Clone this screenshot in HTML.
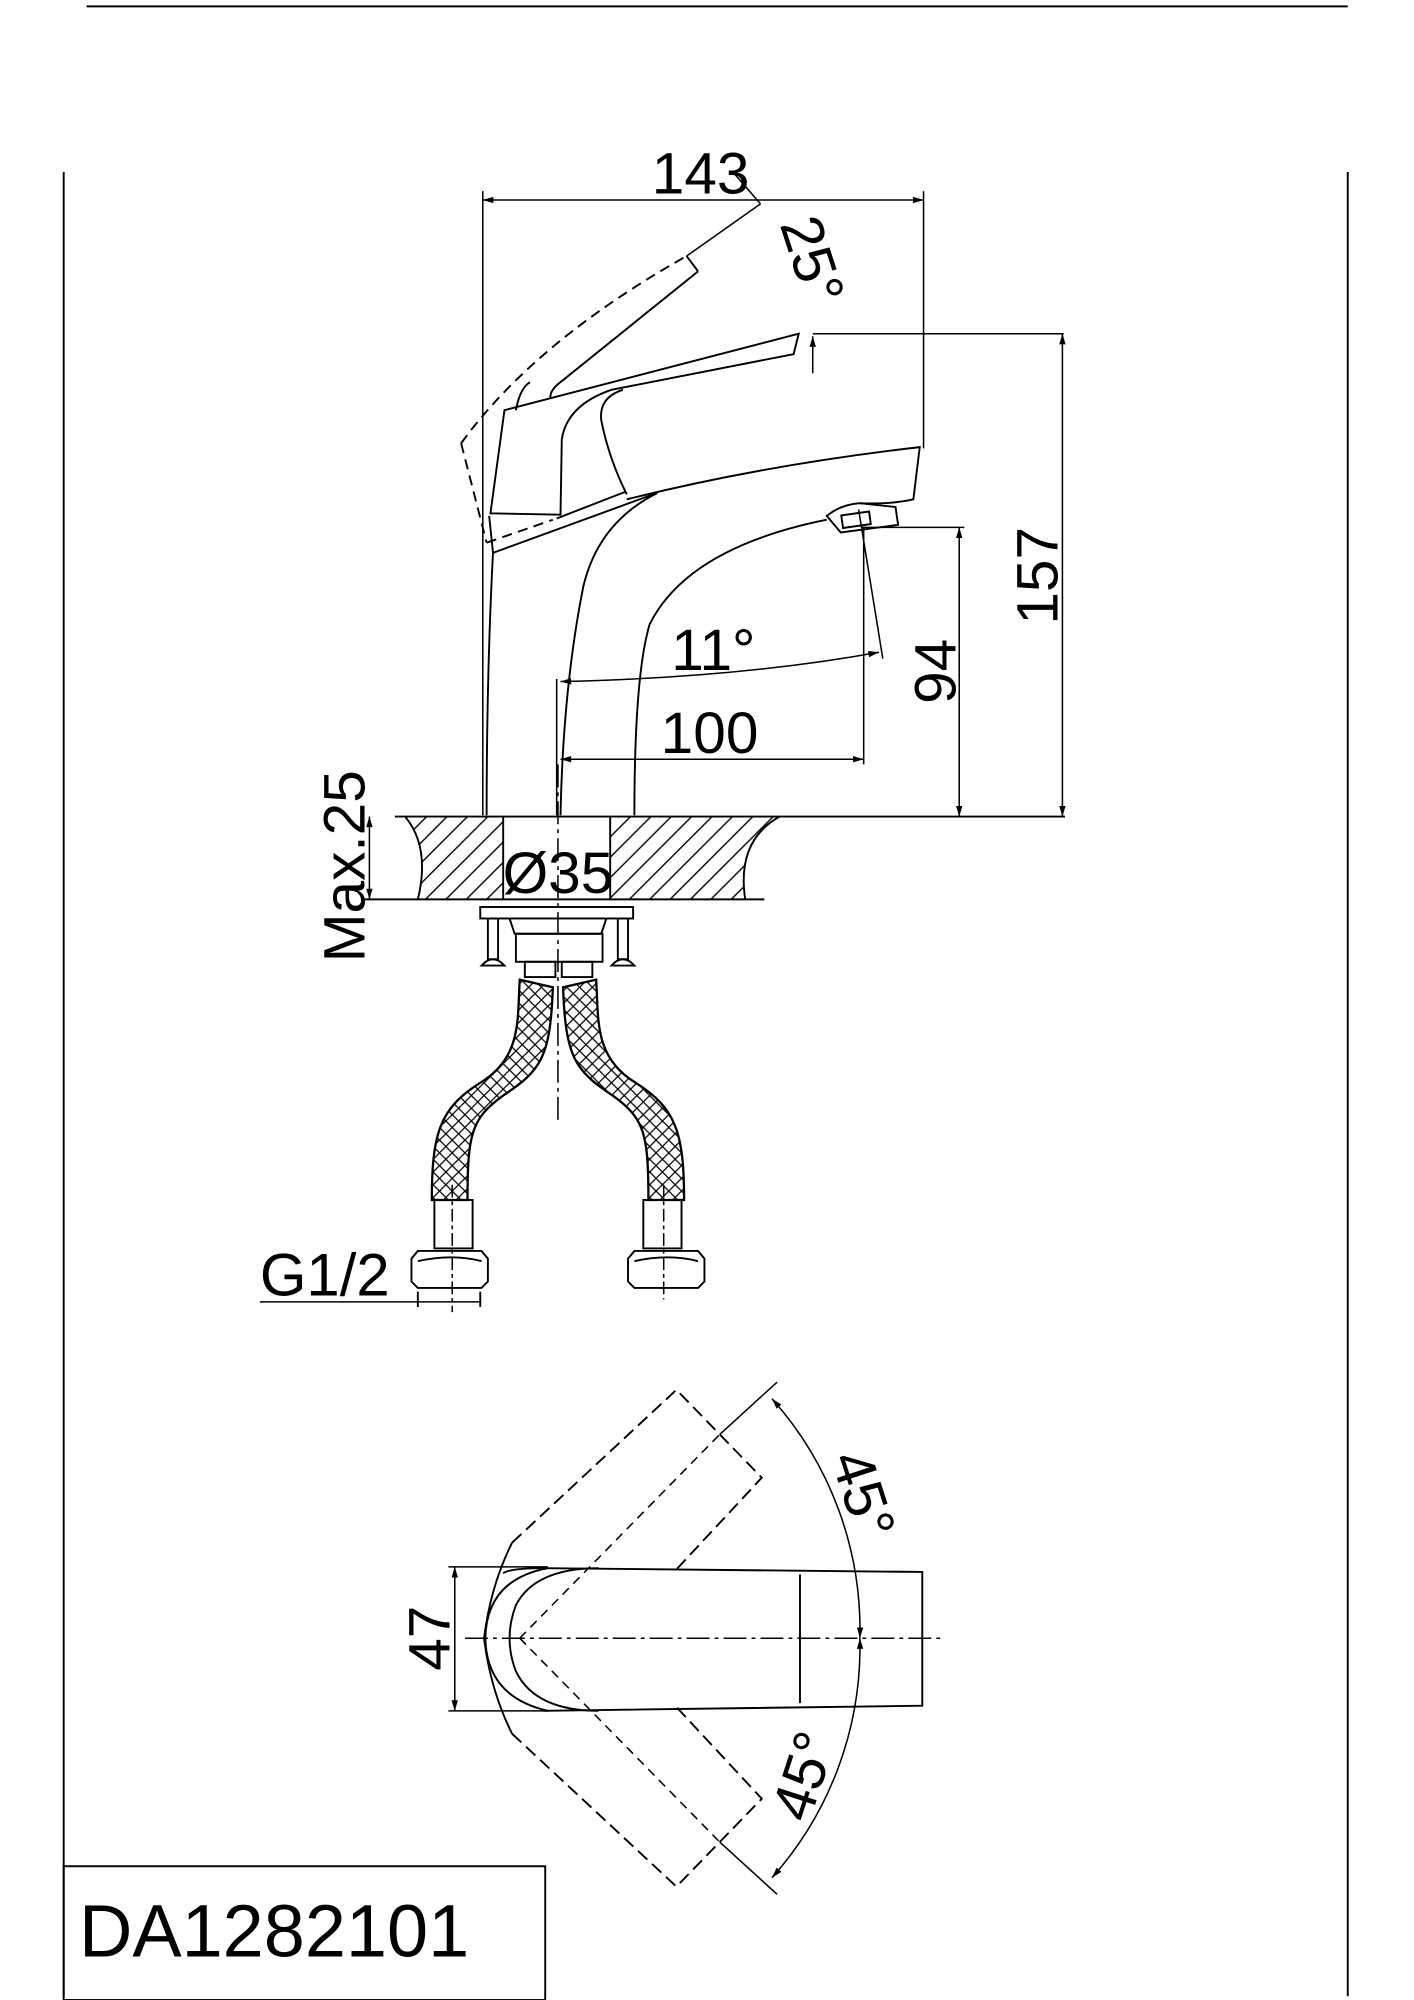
<!DOCTYPE html>
<html><head><meta charset="utf-8"><style>
html,body{margin:0;padding:0;background:#fff}
svg{display:block}
text{font-family:"Liberation Sans",Arial,sans-serif;fill:#000}
</style></head><body>
<svg width="1414" height="2000" viewBox="0 0 1110 1570" preserveAspectRatio="none" xmlns="http://www.w3.org/2000/svg">
<defs>
<pattern id="hatch" width="16" height="16" patternUnits="userSpaceOnUse">
<path d="M0,16 L16,0 M-4,4 L4,-4 M12,20 L20,12" stroke="#000" stroke-width="1.1"/>
</pattern>
<pattern id="cross" width="10" height="10" patternUnits="userSpaceOnUse">
<path d="M0,10 L10,0 M0,0 L10,10 M-2,2 L2,-2 M8,12 L12,8 M-2,8 L2,12 M8,-2 L12,2" stroke="#000" stroke-width="1"/>
</pattern>
<marker id="ar" viewBox="0 0 10 6" refX="10" refY="3" markerWidth="13" markerHeight="5" orient="auto-start-reverse" markerUnits="userSpaceOnUse">
<path d="M0,0 L10,3 L0,6 z" fill="#000"/>
</marker>
</defs>
<g fill="none" stroke="#000" stroke-width="1.5">
<!-- frame -->
<line x1="68" y1="5" x2="1058" y2="5"/>
<line x1="50" y1="135" x2="50" y2="1567"/>
<line x1="1058" y1="135" x2="1058" y2="1567"/>
<rect x="50" y="1465" width="378" height="105"/>

<!-- 143 dim -->
<line x1="379" y1="157" x2="725" y2="157" stroke-width="1.2" marker-start="url(#ar)" marker-end="url(#ar)"/>
<line x1="379" y1="150" x2="379" y2="640" stroke-width="1.2"/>
<line x1="725" y1="150" x2="725" y2="352" stroke-width="1.2"/>
<line x1="577" y1="137" x2="597" y2="160" stroke-width="1.2"/>
<!-- rotated lever -->
<line x1="597" y1="160" x2="539" y2="201" stroke-width="1.2"/>
<path d="M362,348 Q420,268 539,201" stroke-dasharray="8,5"/>
<line x1="539" y1="201" x2="548" y2="213"/>
<path d="M548,213 L440,300 Q432,306 432,312"/>
<path d="M362,348 L382,426 M382,426 L434,408" stroke-dasharray="8,5"/>
<path d="M405,322 Q408,305 416,300"/>

<!-- lever -->
<path d="M396,322 L627,262 L623,278 L480,306 Q445,318 441,345 L440,404 L385,403 Z"/>
<path d="M489,306 Q470,312 472,330 Q478,360 492,388"/>
<path d="M437,407 L491,386"/>
<path d="M387,434 L513,388"/>
<path d="M384,405 L387,434"/>
<!-- spout -->
<path d="M492,392 Q600,365 722,351 L717,392 Q700,396 675,395"/>
<path d="M675,395 L703,398 L705,412 L660,418 L649,405 Q660,396 675,395"/>
<rect x="661" y="403" width="22" height="10" transform="rotate(-8 672 408)"/>
<path d="M649,408 Q540,430 510,490 Q498,530 498,640"/>
<path d="M516,387 Q470,410 458,460 Q442,540 440,640"/>
<path d="M387,434 Q382,530 382,640"/>
<line x1="638" y1="262" x2="835" y2="262" stroke-width="1.2"/>
<line x1="638" y1="293" x2="638" y2="264" stroke-width="1.2" marker-end="url(#ar)"/>

<!-- 157 / 94 / 100 / 11 -->
<g stroke-width="1.2">
<line x1="834" y1="262" x2="834" y2="641" marker-start="url(#ar)" marker-end="url(#ar)"/>
<line x1="676" y1="414" x2="757" y2="414"/>
<line x1="753" y1="414" x2="753" y2="641" marker-start="url(#ar)" marker-end="url(#ar)"/>
<line x1="678" y1="414" x2="678" y2="600"/>
<line x1="440" y1="596" x2="678" y2="596" marker-start="url(#ar)" marker-end="url(#ar)"/>
<line x1="674" y1="400" x2="693" y2="517"/>
<path d="M440,535 Q580,532 690,512" marker-start="url(#ar)" marker-end="url(#ar)"/>
<line x1="437" y1="533" x2="437" y2="640"/>
</g>

<!-- deck -->
<line x1="310" y1="641" x2="836" y2="641"/>
<line x1="285" y1="706" x2="600" y2="706"/>
<path d="M318,641 Q338,665 328,706 L395,706 L395,641 Z" fill="url(#hatch)" stroke="none"/>
<path d="M479,641 L612,641 Q578,660 585,706 L479,706 Z" fill="url(#hatch)" stroke="none"/>
<path d="M318,641 Q338,665 328,706"/>
<path d="M612,641 Q578,660 585,706"/>
<line x1="395" y1="641" x2="395" y2="706"/>
<line x1="479" y1="641" x2="479" y2="706"/>
<line x1="290" y1="641" x2="290" y2="706" stroke-width="1.2" marker-start="url(#ar)" marker-end="url(#ar)"/>
<line x1="438" y1="600" x2="438" y2="880" stroke-width="1.2" stroke-dasharray="18,4,3,4"/>

<!-- mounting -->
<rect x="377" y="712" width="120" height="9"/>
<path d="M400,721 L404,733 L472,733 L476,721"/>
<rect x="405" y="733" width="68" height="22"/>
<rect x="383" y="721" width="8" height="32"/><path d="M378,758 Q387,748 396,758 Z"/>
<rect x="485" y="721" width="8" height="32"/><path d="M480,758 Q489,748 498,758 Z"/>
<rect x="412" y="755" width="24" height="12"/><rect x="441" y="755" width="24" height="12"/>

<!-- hoses -->
<path d="M408,769 C406,800 410,830 377,850 C345,870 339,890 339,942 L367,942 C367,890 370,878 395,860 C425,840 432,830 434,775 Z" fill="url(#cross)" stroke-width="1.8"/>
<path d="M468,769 C470,800 466,830 499,850 C531,870 537,890 537,942 L509,942 C509,890 506,878 481,860 C451,840 444,830 442,775 Z" fill="url(#cross)" stroke-width="1.8"/>
<rect x="341" y="942" width="30" height="38"/><rect x="505" y="942" width="30" height="38"/>
<path d="M328,982 L378,982 L383,988 L383,1006 L378,1011 L328,1011 L323,1006 L323,988 Z"/>
<path d="M328,990 Q355,984 378,990"/>
<path d="M498,982 L548,982 L553,988 L553,1006 L548,1011 L498,1011 L493,1006 L493,988 Z"/>
<path d="M498,990 Q525,984 548,990"/>
<line x1="355" y1="930" x2="355" y2="1030" stroke-width="1.2" stroke-dasharray="10,3,3,3"/>
<line x1="521" y1="930" x2="521" y2="1020" stroke-width="1.2" stroke-dasharray="10,3,3,3"/>
<line x1="204" y1="1022" x2="377" y2="1022" stroke-width="1.2"/>
<line x1="328" y1="1014" x2="328" y2="1026"/><line x1="377" y1="1014" x2="377" y2="1026"/>

<!-- top view -->
<line x1="365" y1="1286" x2="742" y2="1286" stroke-width="1.2" stroke-dasharray="18,4,3,4"/>
<path d="M427,1231 L724,1234 L724,1339 L427,1343"/>
<line x1="628" y1="1236" x2="628" y2="1337"/>
<path d="M427,1231 Q400,1231 395,1235"/>
<path d="M470,1231 Q420,1231 405,1260 Q395,1286 405,1312 Q420,1343 470,1343"/>
<path d="M430,1231 Q382,1240 381,1286 Q382,1332 430,1343"/>
<path d="M402,1211 Q385,1245 380,1286 Q385,1327 402,1361"/>
<path d="M402,1211 L531,1091 L598,1160 L531,1232" stroke-dasharray="10,5"/>
<path d="M402,1361 L531,1481 L598,1412 L531,1340" stroke-dasharray="10,5"/>
<path d="M408,1286 L565,1126 M408,1286 L565,1446" stroke-width="1.2" stroke-dasharray="7,5"/>
<line x1="565" y1="1126" x2="610" y2="1085" stroke-width="1.2"/>
<line x1="565" y1="1446" x2="610" y2="1487" stroke-width="1.2"/>
<path d="M606,1098 A272 272 0 0 1 675,1286" stroke-width="1.2" marker-start="url(#ar)" marker-end="url(#ar)"/>
<path d="M675,1286 A272 272 0 0 1 606,1474" stroke-width="1.2" marker-start="url(#ar)" marker-end="url(#ar)"/>
<line x1="352" y1="1230" x2="430" y2="1230" stroke-width="1.2"/>
<line x1="352" y1="1343" x2="430" y2="1343" stroke-width="1.2"/>
<line x1="357" y1="1230" x2="357" y2="1343" stroke-width="1.2" marker-start="url(#ar)" marker-end="url(#ar)"/>
</g>

<g font-size="46">
<text x="550" y="152" text-anchor="middle">143</text>
<text transform="translate(612,176) rotate(72)">25°</text>
<text transform="translate(830,452) rotate(-90)" text-anchor="middle">157</text>
<text transform="translate(750,527) rotate(-90)" text-anchor="middle">94</text>
<text x="557" y="591" text-anchor="middle">100</text>
<text x="560" y="526" text-anchor="middle">11°</text>
<text transform="translate(286,680) rotate(-90)" text-anchor="middle">Max.25</text>
<text x="438" y="701" text-anchor="middle">Ø35</text>
<text x="204" y="1017" font-size="47">G1/2</text>
<text transform="translate(353,1286) rotate(-90)" text-anchor="middle">47</text>
<text transform="translate(652,1145) rotate(72)">45°</text>
<text transform="translate(635,1432) rotate(-72)">45°</text>
<text x="62" y="1536" font-size="58">DA1282101</text>
</g>
</svg>
</body></html>
